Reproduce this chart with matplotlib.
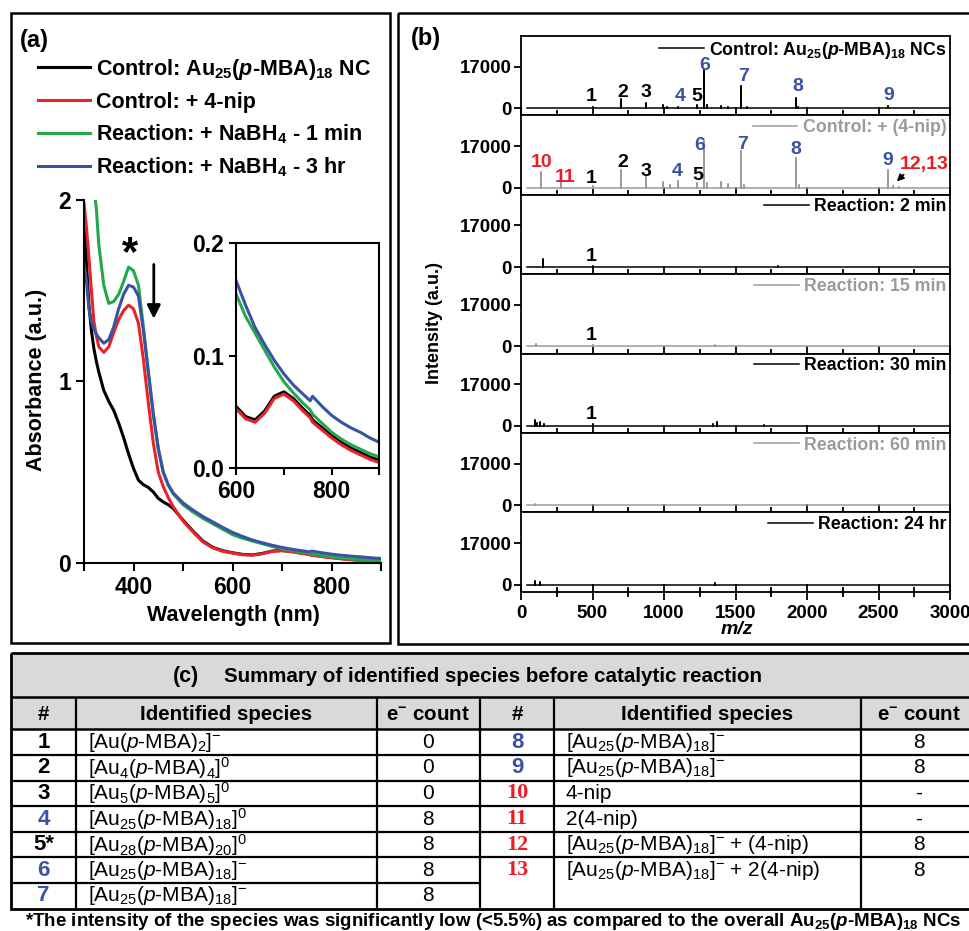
"""Au25 NC stability: UV-vis (a), ESI-MS time series (b) and species table (c)."""
import numpy as np
import matplotlib
matplotlib.use("Agg")
import matplotlib.pyplot as plt
from matplotlib.patches import Rectangle
from matplotlib.ticker import MultipleLocator, FixedLocator

plt.rcParams["font.family"] = "Liberation Sans"
plt.rcParams["font.weight"] = "bold"
plt.rcParams["mathtext.fontset"] = "custom"
plt.rcParams["mathtext.rm"] = "Liberation Sans:weight=normal"
plt.rcParams["mathtext.it"] = "Liberation Sans:style=italic:weight=normal"
plt.rcParams["mathtext.bf"] = "Liberation Sans:weight=bold"
plt.rcParams["mathtext.bfit"] = "Liberation Sans:style=italic:weight=bold"
plt.rcParams["mathtext.default"] = "regular"

# ---------------- (a) UV-vis data ----------------
wl = [300, 305, 310, 315, 320, 325, 330, 340, 350, 360, 370, 380, 390, 400, 410,
      420, 430, 440, 450, 460, 470, 480, 500, 520, 540, 560, 580, 600, 620, 640,
      660, 680, 700, 720, 740, 755, 760, 780, 800, 820, 840, 860, 880, 900]
abs_au25 = [1.95, 1.65, 1.42, 1.28, 1.18, 1.11, 1.05, 0.95, 0.89, 0.84, 0.77, 0.69, 0.60, 0.52, 0.455,
            0.43, 0.415, 0.39, 0.355, 0.335, 0.32, 0.30, 0.235, 0.175, 0.12, 0.085, 0.066, 0.055, 0.046, 0.043,
            0.051, 0.064, 0.068, 0.062, 0.053, 0.047, 0.043, 0.036, 0.029, 0.023, 0.018, 0.014, 0.010, 0.007]
abs_nip = [1.98, 1.85, 1.68, 1.50, 1.33, 1.25, 1.19, 1.16, 1.19, 1.27, 1.34, 1.39, 1.42, 1.40, 1.32,
           1.12, 0.88, 0.66, 0.50, 0.42, 0.36, 0.31, 0.23, 0.17, 0.115, 0.082, 0.063, 0.053, 0.044, 0.041,
           0.049, 0.062, 0.066, 0.060, 0.051, 0.045, 0.041, 0.034, 0.027, 0.021, 0.016, 0.012, 0.008, 0.005]
abs_1min = [2.6, 2.45, 2.3, 2.18, 2.07, 1.95, 1.75, 1.53, 1.43, 1.44, 1.48, 1.55, 1.63, 1.61, 1.53,
            1.30, 1.05, 0.82, 0.63, 0.50, 0.43, 0.38, 0.32, 0.28, 0.245, 0.215, 0.185, 0.155, 0.135, 0.12,
            0.105, 0.09, 0.077, 0.067, 0.058, 0.052, 0.048, 0.040, 0.032, 0.026, 0.021, 0.017, 0.013, 0.010]
abs_3hr = [1.65, 1.55, 1.40, 1.33, 1.29, 1.26, 1.24, 1.21, 1.23, 1.30, 1.40, 1.48, 1.53, 1.52, 1.47,
           1.28, 1.05, 0.82, 0.63, 0.50, 0.43, 0.385, 0.33, 0.29, 0.255, 0.225, 0.195, 0.167, 0.145, 0.125,
           0.11, 0.096, 0.084, 0.074, 0.066, 0.060, 0.064, 0.055, 0.047, 0.041, 0.036, 0.032, 0.027, 0.023]
uv_labels = ["Control: Au$_{25}$($\\mathbfit{p}$-MBA)$_{18}$ NC",
             "Control: + 4-nip",
             "Reaction: + NaBH$_4$ - 1 min",
             "Reaction: + NaBH$_4$ - 3 hr"]
uv_colors = ["#000000", "#e8242a", "#22a84a", "#3a52a3"]

# ---------------- (b) ESI-MS peaks ----------------
ms_span = [45, 3000]
ctrl_mz = [120, 500, 697, 877, 990, 1020, 1095, 1229, 1280, 1300, 1400, 1445, 1538, 1580, 1923, 1940, 2564]
ctrl_int = [300, 500, 3700, 2000, 1500, 600, 700, 1300, 15800, 1500, 800, 500, 9200, 600, 4250, 500, 800]
nip_mz = [139, 279, 500, 697, 877, 990, 1040, 1095, 1229, 1280, 1300, 1400, 1445, 1538, 1560, 1923, 1945,
          2564, 2600, 2640]
nip_int = [6600, 2350, 700, 7300, 4800, 2300, 1200, 2700, 2000, 18900, 2000, 2300, 1600, 14900, 1200, 12000,
           900, 7200, 600, 400]
r2_mz, r2_int = [157, 500, 1800], [3300, 600, 300]
r15_mz, r15_int = [106, 500, 1360, 1400], [1000, 800, 600, 400]
r30_mz, r30_int = [101, 110, 132, 160, 500, 1340, 1370, 1700], [2300, 1200, 1500, 600, 700, 900, 1400, 400]
r60_mz, r60_int = [101, 1360], [700, 300]
r24_mz, r24_int = [101, 132, 1360], [1500, 1100, 800]
ms_labels = ["Control: Au$_{25}$($\\mathbfit{p}$-MBA)$_{18}$ NCs", "Control: + (4-nip)",
             "Reaction: 2 min", "Reaction: 15 min", "Reaction: 30 min",
             "Reaction: 60 min", "Reaction: 24 hr"]

BLK, GRY, BLU, RED = "#000000", "#9b9b9b", "#3a52a3", "#ed1c24"

# peak numbers: (text, m/z, intensity, colour)
ctrl_tags = [("1", 491, 4650, BLK), ("2", 714, 6460, BLK), ("3", 872, 6460, BLK), ("4", 1115, 4650, BLU),
             ("5", 1229, 4650, BLK), ("6", 1285, 17500, BLU), ("7", 1556, 13050, BLU),
             ("8", 1936, 8770, BLU), ("9", 2569, 5060, BLU)]
nip_tags = [("10", 144, 10290, RED), ("11", 309, 4120, RED), ("1", 491, 3700, BLK), ("2", 714, 10290, BLK),
            ("3", 872, 6420, BLK), ("4", 1095, 6420, BLU), ("5", 1239, 4780, BLK), ("6", 1249, 17130, BLU),
            ("7", 1551, 17550, BLU), ("8", 1923, 15770, BLU), ("9", 2564, 11240, BLU),
            ("12,13", 2818, 9300, RED)]
one_tag = [("1", 491, 4500, BLK)]

# ---------------- (c) table ----------------
left_num = ["1", "2", "3", "4", "5*", "6", "7"]
left_col = [BLK, BLK, BLK, BLU, BLK, BLU, BLU]
left_species = ["[Au($\\mathit{p}$-MBA)$_2$]$^{-}$", "[Au$_4$($\\mathit{p}$-MBA)$_4$]$^0$",
                "[Au$_5$($\\mathit{p}$-MBA)$_5$]$^0$", "[Au$_{25}$($\\mathit{p}$-MBA)$_{18}$]$^0$",
                "[Au$_{28}$($\\mathit{p}$-MBA)$_{20}$]$^0$", "[Au$_{25}$($\\mathit{p}$-MBA)$_{18}$]$^{-}$",
                "[Au$_{25}$($\\mathit{p}$-MBA)$_{18}$]$^{-}$"]
left_e = ["0", "0", "0", "8", "8", "8", "8"]
right_num = ["8", "9", "10", "11", "12", "13"]
right_col = [BLU, BLU, RED, RED, RED, RED]
right_species = ["[Au$_{25}$($\\mathit{p}$-MBA)$_{18}$]$^{-}$", "[Au$_{25}$($\\mathit{p}$-MBA)$_{18}$]$^{-}$",
                 "4-nip", "2(4-nip)", "[Au$_{25}$($\\mathit{p}$-MBA)$_{18}$]$^{-}$ + (4-nip)",
                 "[Au$_{25}$($\\mathit{p}$-MBA)$_{18}$]$^{-}$ + 2(4-nip)"]
right_e = ["8", "8", "-", "-", "8", "8"]

W, H = 969, 931
fig = plt.figure(figsize=(W / 100, H / 100), dpi=100)


def px_axes(x0, y0, x1, y1):
    # axes from pixel box (top-left origin)
    return fig.add_axes([x0 / W, 1 - y1 / H, (x1 - x0) / W, (y1 - y0) / H])


bg = px_axes(0, 0, W, H)
bg.set_xlim(0, W)
bg.set_ylim(H, 0)
bg.axis("off")

# panel frames
bg.add_patch(Rectangle((11, 13), 379, 630, fill=False, lw=1.8, ec="k"))
bg.add_patch(Rectangle((398, 13), 590, 631, fill=False, lw=1.8, ec="k"))

# ---------------- panel (a) ----------------
ax = px_axes(84, 200, 381, 562.7)
handles = []
for y, c, lab in zip([abs_au25, abs_nip, abs_1min, abs_3hr], uv_colors, uv_labels):
    h, = ax.plot(wl, y, color=c, lw=2.2, label=lab)
    handles.append(h)
ax.set_xlim(300, 900)
ax.set_ylim(0, 2)
for s in ("top", "right"):
    ax.spines[s].set_visible(False)
for s in ("left", "bottom"):
    ax.spines[s].set_linewidth(1.5)
ax.xaxis.set_major_locator(FixedLocator([400, 600, 800]))
ax.xaxis.set_minor_locator(FixedLocator([300, 500, 700, 900]))
ax.yaxis.set_major_locator(FixedLocator([0, 1, 2]))
ax.tick_params(which="both", direction="out", length=6, width=1.5, labelsize=16.5)
ax.text(393, 1.70, "*", fontsize=30, ha="center", va="center")
ax.annotate("", xy=(441, 1.33), xytext=(441, 1.66),
            arrowprops=dict(arrowstyle="-|>", lw=2, color="k", mutation_scale=20))

axin = px_axes(236, 243.3, 379.5, 468.3)
for y, c in zip([abs_au25, abs_nip, abs_1min, abs_3hr], uv_colors):
    axin.plot(wl, y, color=c, lw=2.2)
axin.set_xlim(600, 900)
axin.set_ylim(0, 0.2)
for s in axin.spines.values():
    s.set_linewidth(1.5)
axin.xaxis.set_major_locator(FixedLocator([600, 800]))
axin.xaxis.set_minor_locator(FixedLocator([700, 900]))
axin.yaxis.set_major_locator(FixedLocator([0, 0.1, 0.2]))
axin.yaxis.set_major_formatter(lambda v, p: f"{v:.1f}")
axin.tick_params(which="both", direction="out", length=5, width=1.5, labelsize=16.5)

fig.legend(handles, uv_labels, loc="upper left", bbox_to_anchor=(38 / W, 1 - 57 / H),
           frameon=False, fontsize=15.5, handlelength=2.4, handletextpad=0.3,
           labelspacing=0.45, borderpad=0, borderaxespad=0)
bg.text(20, 40, "(a)", fontsize=17, ha="left", va="center")
bg.text(37, 380, "Absorbance (a.u.)", fontsize=15.5, rotation=90, ha="center", va="center")
bg.text(233, 615, "Wavelength (nm)", fontsize=15.5, ha="center", va="center")

# ---------------- panel (b) ----------------
spectra = [(ctrl_mz, ctrl_int), (nip_mz, nip_int), (r2_mz, r2_int), (r15_mz, r15_int),
           (r30_mz, r30_int), (r60_mz, r60_int), (r24_mz, r24_int)]
tags = [ctrl_tags, nip_tags, one_tag, one_tag, one_tag, [], []]
top0, ph = 36, 79.4
for i, ((mz, inten), lab) in enumerate(zip(spectra, ms_labels)):
    col = BLK if i % 2 == 0 else GRY
    axb = px_axes(521, top0 + i * ph, 950, top0 + (i + 1) * ph)
    mz = np.asarray(mz, float)
    inten = np.asarray(inten, float)
    x = np.concatenate([[ms_span[0]], np.repeat(mz, 3), [ms_span[1]]])
    y = np.concatenate([[0], np.column_stack([np.zeros_like(inten), inten, np.zeros_like(inten)]).ravel(), [0]])
    line, = axb.plot(x, y, color=col, lw=1.1)
    axb.set_xlim(0, 3000)
    axb.set_ylim(-2900, 29500)
    axb.set_yticks([0, 17000])
    axb.xaxis.set_major_locator(MultipleLocator(500))
    axb.xaxis.set_minor_locator(MultipleLocator(250))
    for s in axb.spines.values():
        s.set_linewidth(1.3)
    last = i == len(spectra) - 1
    axb.tick_params(axis="x", which="major", direction="inout" if last else "in",
                    length=12 if last else 6, width=1.3, labelbottom=last, labelsize=13.5)
    axb.tick_params(axis="x", which="minor", direction="inout" if last else "in",
                    length=7 if last else 3.5, width=1.3)
    axb.tick_params(axis="y", direction="out", length=5, width=1.3, labelsize=13.5, pad=2)
    axb.legend([line], [lab], loc="upper right", frameon=False, fontsize=12.8, labelcolor=col,
               handlelength=2.5, handletextpad=0.3, borderpad=0.2, borderaxespad=0.0)
    for t, tx, ty, tc in tags[i]:
        axb.text(tx, ty, t, color=tc, fontsize=14, ha="center", va="center")
    if i == 1:
        axb.annotate("", xy=(2615, 1770), xytext=(2690, 6170),
                     arrowprops=dict(arrowstyle="-|>", lw=1.2, color="k", mutation_scale=10))

bg.text(411, 38, "(b)", fontsize=17, ha="left", va="center")
bg.text(435, 323, "Intensity (a.u.)", fontsize=13, rotation=90, ha="center", va="center")
bg.text(737, 630, "m/z", fontsize=14, style="italic", ha="center", va="center")

# ---------------- panel (c) table ----------------
xl = [11, 75.7, 376.7, 480]
xr = [480, 554, 860.7, 977]
t_top, t_hdr, t_row0 = 653.3, 696.7, 729.3
rh = 25.63
t_bot = t_row0 + 7 * rh
gray = "#d9d9d9"
bg.add_patch(Rectangle((xl[0], t_top), xr[-1] - xl[0], t_row0 - t_top, fc=gray, ec="none"))
bg.add_patch(Rectangle((xl[0], t_top), xr[-1] - xl[0], t_bot - t_top, fill=False, ec="k", lw=2))
bg.hlines([t_hdr, t_row0], xl[0], xr[-1], color="k", lw=1.8)
bg.hlines([t_row0 + k * rh for k in range(1, 7)], xl[0], xl[-1], color="k", lw=1.6)
bg.hlines([t_row0 + k * rh for k in range(1, 6)], xr[0], xr[-1], color="k", lw=1.6)
bg.vlines(xl[1:] + xr[1:3], t_hdr, t_bot, color="k", lw=1.6)

bg.text(186, 676.7, "(c)", fontsize=15.5, ha="center", va="center")
bg.text(224, 676.7, "Summary of identified species before catalytic reaction",
        fontsize=14.8, ha="left", va="center")
for xs in (xl, xr):
    for k, head in enumerate(["#", "Identified species", "e$^{-}$ count"]):
        bg.text((xs[k] + xs[k + 1]) / 2, (t_hdr + t_row0) / 2 + 1, head, fontsize=14.8,
                ha="center", va="center")

for xs, nums, cols, spec, ecnt in ((xl, left_num, left_col, left_species, left_e),
                                    (xr, right_num, right_col, right_species, right_e)):
    for k, (n, c, s, e) in enumerate(zip(nums, cols, spec, ecnt)):
        yc = t_row0 + (k + 0.5) * rh
        fam = "Liberation Serif" if c == RED else "Liberation Sans"
        bg.text((xs[0] + xs[1]) / 2, yc, n, color=c, fontsize=16, family=fam,
                ha="center", va="center")
        bg.text(xs[1] + 12, yc, s, fontsize=15, fontweight="normal", ha="left", va="center")
        bg.text((xs[2] + xs[3]) / 2, yc, e, fontsize=15, fontweight="normal",
                ha="center", va="center")

bg.text(25, 921.5, "*The intensity of the species was significantly low (<5.5%) as compared to the "
        "overall Au$_{25}$($\\mathbfit{p}$-MBA)$_{18}$ NCs", fontsize=13.5, ha="left", va="center")

fig.savefig("out.png", dpi=100)
